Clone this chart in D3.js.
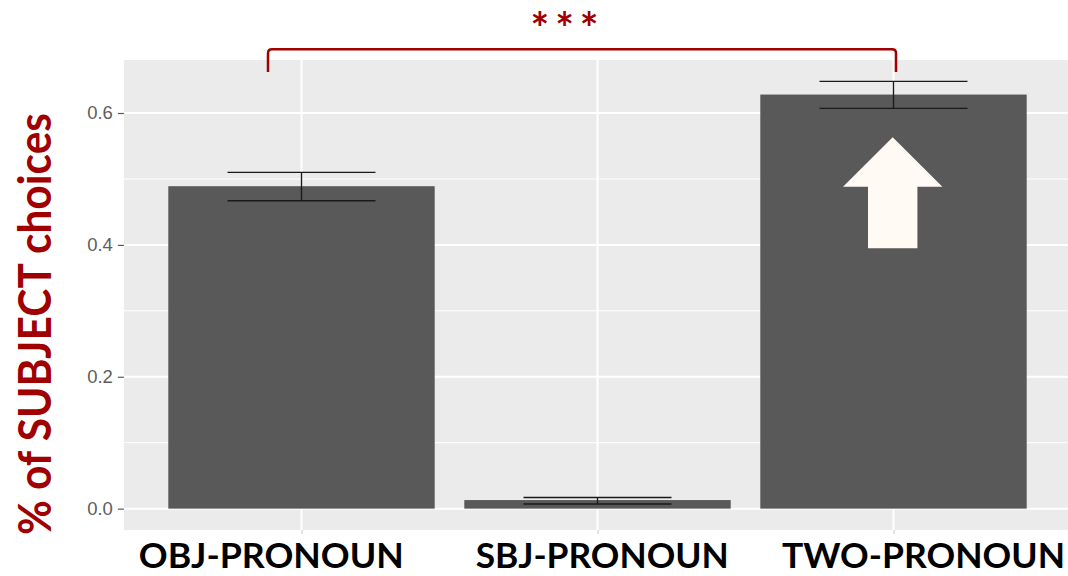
<!DOCTYPE html>
<html>
<head>
<meta charset="utf-8">
<script src="https://cdn.jsdelivr.net/npm/d3@7"></script>
<style>
  html, body { margin: 0; padding: 0; background: #ffffff; }
  svg { display: block; }
</style>
</head>
<body>
<svg id="chart" width="1068" height="576"></svg>
<script>
// Condition labels and proportions of SUBJECT choices (mean with error bar limits)
const categories = ["OBJ-PRONOUN", "SBJ-PRONOUN", "TWO-PRONOUN"];
const means      = [0.489, 0.013, 0.628];
const errLow     = [0.467, 0.007, 0.607];
const errHigh    = [0.510, 0.017, 0.648];
const yTicks     = [0.0, 0.2, 0.4, 0.6];
const yMinorTicks = [0.1, 0.3, 0.5];
const yTitle = "% of SUBJECT choices";
const significance = "***";

const svg = d3.select("#chart");

// Panel geometry
const panel = { left: 123.9, right: 1071.1, top: 60, bottom: 530 };

// ggplot-like expansion: 5% of data range on the y axis, 0.6 units on discrete x
const yMaxData = d3.max(errHigh);
const yPad = yMaxData * 0.05;
const y = d3.scaleLinear()
  .domain([-yPad, yMaxData + yPad])
  .range([panel.bottom, panel.top]);

const x = d3.scalePoint()
  .domain(categories)
  .range([panel.left, panel.right])
  .padding(0.6);
const step = x.step();
const barW = step * 0.9;
const whiskerW = step * 0.5;

// Panel background
svg.append("rect")
  .attr("x", panel.left).attr("y", panel.top)
  .attr("width", panel.right - panel.left)
  .attr("height", panel.bottom - panel.top)
  .attr("fill", "#ebebeb");

// Minor horizontal grid
svg.append("g").selectAll("line").data(yMinorTicks).join("line")
  .attr("x1", panel.left).attr("x2", panel.right)
  .attr("y1", d => y(d)).attr("y2", d => y(d))
  .attr("stroke", "#ffffff").attr("stroke-width", 1);

// Major horizontal grid
svg.append("g").selectAll("line").data(yTicks).join("line")
  .attr("x1", panel.left).attr("x2", panel.right)
  .attr("y1", d => y(d)).attr("y2", d => y(d))
  .attr("stroke", "#ffffff").attr("stroke-width", 2);

// Major vertical grid
svg.append("g").selectAll("line").data(categories).join("line")
  .attr("x1", d => x(d)).attr("x2", d => x(d))
  .attr("y1", panel.top).attr("y2", panel.bottom)
  .attr("stroke", "#ffffff").attr("stroke-width", 2);

// Bars
const rows = categories.map((c, i) => ({ c, m: means[i], lo: errLow[i], hi: errHigh[i] }));
svg.append("g").selectAll("rect").data(rows).join("rect")
  .attr("x", d => x(d.c) - barW / 2)
  .attr("width", barW)
  .attr("y", d => y(d.m))
  .attr("height", d => y(0) - y(d.m))
  .attr("fill", "#595959");

// Error bars
const eb = svg.append("g").attr("stroke", "#1a1a1a").attr("stroke-width", 1.4).attr("fill", "none");
eb.selectAll(".v").data(rows).join("line").attr("class", "v")
  .attr("x1", d => x(d.c)).attr("x2", d => x(d.c))
  .attr("y1", d => y(d.lo)).attr("y2", d => y(d.hi));
eb.selectAll(".t").data(rows).join("line").attr("class", "t")
  .attr("x1", d => x(d.c) - whiskerW / 2).attr("x2", d => x(d.c) + whiskerW / 2)
  .attr("y1", d => y(d.hi)).attr("y2", d => y(d.hi));
eb.selectAll(".b").data(rows).join("line").attr("class", "b")
  .attr("x1", d => x(d.c) - whiskerW / 2).attr("x2", d => x(d.c) + whiskerW / 2)
  .attr("y1", d => y(d.lo)).attr("y2", d => y(d.lo));

// Y axis
const yAxis = svg.append("g")
  .attr("transform", `translate(${panel.left},0)`)
  .call(d3.axisLeft(y).tickValues(yTicks).tickFormat(d3.format(".1f")).tickSize(6).tickPadding(5));
yAxis.select(".domain").remove();
yAxis.selectAll(".tick line").attr("stroke", "#5a5a5a").attr("stroke-width", 1.2);
yAxis.selectAll(".tick text")
  .attr("fill", "#5e5e5e")
  .style("font-family", "'Liberation Sans', Arial, sans-serif")
  .style("font-size", "18.5px");

// X axis: short ticks and large category labels
const labelShift = [-30.7, 4.2, 29.5];
const labelWidth = [265, 253, 283];
const xAxis = svg.append("g")
  .attr("transform", `translate(0,${panel.bottom})`)
  .call(d3.axisBottom(x).tickSize(4).tickPadding(34));
xAxis.select(".domain").remove();
xAxis.selectAll(".tick line").attr("stroke", "#c8c8c8").attr("stroke-width", 1);
xAxis.selectAll(".tick text")
  .attr("fill", "#000000")
  .attr("y", 38.3)
  .attr("dy", null)
  .attr("dx", (d, i) => labelShift[i])
  .attr("textLength", (d, i) => labelWidth[i])
  .attr("lengthAdjust", "spacingAndGlyphs")
  .style("font-family", "Lato, 'Open Sans', sans-serif")
  .style("font-weight", "bold")
  .style("font-size", "33.5px");

// Y axis title
svg.append("text")
  .attr("transform", "translate(51,324) rotate(-90)")
  .attr("text-anchor", "middle")
  .attr("fill", "#a00000")
  .attr("textLength", 422)
  .attr("lengthAdjust", "spacingAndGlyphs")
  .style("font-family", "Lato, 'Open Sans', sans-serif")
  .style("font-weight", "bold")
  .style("font-size", "45px")
  .text(yTitle);

// Significance bracket between OBJ-PRONOUN and TWO-PRONOUN
const bx1 = x(categories[0]) - 33.5;
const bx2 = x(categories[2]) + 2.5;
const byTop = 49.3, byBot = 72, r = 4;
svg.append("path")
  .attr("d", `M${bx1},${byBot} L${bx1},${byTop + r} Q${bx1},${byTop} ${bx1 + r},${byTop} ` +
             `L${bx2 - r},${byTop} Q${bx2},${byTop} ${bx2},${byTop + r} L${bx2},${byBot}`)
  .attr("fill", "none")
  .attr("stroke", "#a00000")
  .attr("stroke-width", 2.5);

svg.append("text")
  .attr("x", 564.5).attr("y", 44)
  .attr("text-anchor", "middle")
  .attr("fill", "#a00000")
  .attr("textLength", 68)
  .attr("lengthAdjust", "spacing")
  .style("font-family", "Lato, 'Open Sans', sans-serif")
  .style("font-weight", "bold")
  .style("font-size", "44px")
  .text(significance);

// Upward arrow on the TWO-PRONOUN bar
const ax = x(categories[2]) - 0.8;
const arrowPts = [
  [ax, 137.3], [ax + 49.7, 186.7], [ax + 24.7, 186.7], [ax + 24.7, 248.3],
  [ax - 24.7, 248.3], [ax - 24.7, 186.7], [ax - 49.7, 186.7]
];
svg.append("path")
  .attr("d", d3.line()(arrowPts) + "Z")
  .attr("fill", "#fffaf3");
</script>
</body>
</html>
